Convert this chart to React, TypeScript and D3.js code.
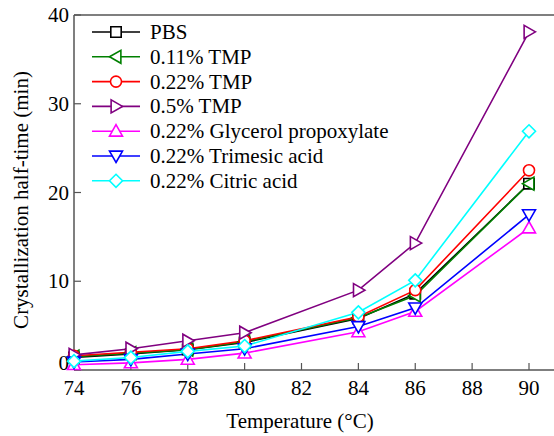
import React, { useEffect, useRef } from "react";
import * as d3 from "d3";

const temps = [74, 76, 78, 80, 84, 86, 90];
const xTicks = [74, 76, 78, 80, 82, 84, 86, 88, 90];
const yTicks = [0, 10, 20, 30, 40];

const seriesNames = [
  "PBS",
  "0.11% TMP",
  "0.22% TMP",
  "0.5% TMP",
  "0.22% Glycerol propoxylate",
  "0.22% Trimesic acid",
  "0.22% Citric acid",
];
const seriesColors = ["#000000", "#008000", "#ff0000", "#800080", "#ff00ff", "#0000ff", "#00ffff"];
const seriesShapes = ["square", "left", "circle", "right", "up", "down", "diamond"];

const pbs = [1.4, 1.8, 2.3, 3.1, 5.8, 8.6, 21.0];
const tmp011 = [1.5, 1.9, 2.3, 3.2, 5.9, 8.4, 21.0];
const tmp022 = [1.6, 2.0, 2.4, 3.3, 6.0, 9.0, 22.5];
const tmp05 = [1.7, 2.4, 3.3, 4.2, 9.0, 14.3, 38.1];
const glycerol = [0.6, 0.8, 1.2, 1.9, 4.3, 6.6, 16.0];
const trimesic = [0.9, 1.2, 1.8, 2.4, 4.9, 7.0, 17.5];
const citric = [1.0, 1.4, 2.1, 2.7, 6.5, 10.1, 26.9];

const allValues = [pbs, tmp011, tmp022, tmp05, glycerol, trimesic, citric];

function markerPath(shape: string, r: number) {
  switch (shape) {
    case "square":
      return `M${-r * 0.8},${-r * 0.8}H${r * 0.8}V${r * 0.8}H${-r * 0.8}Z`;
    case "circle":
      return `M${r * 0.85},0A${r * 0.85},${r * 0.85},0,1,1,${-r * 0.85},0A${r * 0.85},${r * 0.85},0,1,1,${r * 0.85},0Z`;
    case "up":
      return `M0,${-r}L${r},${r * 0.75}L${-r},${r * 0.75}Z`;
    case "down":
      return `M0,${r}L${r},${-r * 0.75}L${-r},${-r * 0.75}Z`;
    case "left":
      return `M${-r},0L${r * 0.75},${-r}L${r * 0.75},${r}Z`;
    case "right":
      return `M${r},0L${-r * 0.75},${-r}L${-r * 0.75},${r}Z`;
    default:
      return `M0,${-r}L${r},0L0,${r}L${-r},0Z`;
  }
}

export default function App() {
  const ref = useRef<SVGSVGElement>(null);

  useEffect(() => {
    const svg = d3.select(ref.current);
    svg.selectAll("*").remove();

    const left = 74, top = 15, bottom = 370;
    const x = d3.scaleLinear().domain([74, 90]).range([left, 529]);
    const y = d3.scaleLinear().domain([0, 40]).range([bottom, top]);
    const font = "'Liberation Serif', 'Times New Roman', serif";
    const fs = "21px";
    const axisColor = "#555";

    // frame
    svg.append("line").attr("x1", left).attr("x2", 554).attr("y1", top).attr("y2", top)
      .attr("stroke", axisColor).attr("stroke-width", 1.5);
    svg.append("line").attr("x1", left).attr("x2", 554).attr("y1", bottom).attr("y2", bottom)
      .attr("stroke", axisColor).attr("stroke-width", 1.5);
    svg.append("line").attr("x1", left).attr("x2", left).attr("y1", top).attr("y2", bottom)
      .attr("stroke", axisColor).attr("stroke-width", 1.5);

    // x ticks
    const gx = svg.append("g").style("font-family", font).style("font-size", fs);
    xTicks.forEach((t) => {
      gx.append("line").attr("x1", x(t)).attr("x2", x(t)).attr("y1", bottom).attr("y2", bottom - 7)
        .attr("stroke", axisColor).attr("stroke-width", 1.2);
      gx.append("text").attr("x", x(t)).attr("y", bottom + 25).attr("text-anchor", "middle").text(t);
    });

    // y ticks ("0" lifted so it clears the x labels)
    const gy = svg.append("g").style("font-family", font).style("font-size", fs);
    yTicks.forEach((t) => {
      gy.append("line").attr("x1", left).attr("x2", left + 7).attr("y1", y(t)).attr("y2", y(t))
        .attr("stroke", axisColor).attr("stroke-width", 1.2);
      gy.append("text").attr("x", left - 5).attr("y", y(t) + (t === 0 ? 0 : 7))
        .attr("text-anchor", "end").text(t);
    });

    svg.append("text").attr("x", 300).attr("y", 428).attr("text-anchor", "middle")
      .style("font-family", font).style("font-size", fs).text("Temperature (°C)");
    svg.append("text").attr("transform", "translate(28,200) rotate(-90)").attr("text-anchor", "middle")
      .style("font-family", font).style("font-size", fs).text("Crystallization half-time (min)");

    const line = d3.line<number>().x((_, i) => x(temps[i])).y((d) => y(d));

    allValues.forEach((vals, si) => {
      svg.append("path").attr("d", line(vals)).attr("fill", "none")
        .attr("stroke", seriesColors[si]).attr("stroke-width", 1.6);
    });
    allValues.forEach((vals, si) => {
      svg.append("g").selectAll("path").data(vals).enter().append("path")
        .attr("transform", (d, i) => `translate(${x(temps[i])},${y(d)})`)
        .attr("d", markerPath(seriesShapes[si], 6.5))
        .attr("fill", "white").attr("stroke", seriesColors[si]).attr("stroke-width", 1.6);
    });

    // legend
    const lg = svg.append("g").style("font-family", font).style("font-size", fs);
    seriesNames.forEach((name, i) => {
      const ly = 32 + i * 24.8;
      lg.append("line").attr("x1", 92).attr("x2", 140).attr("y1", ly).attr("y2", ly)
        .attr("stroke", seriesColors[i]).attr("stroke-width", 1.6);
      lg.append("path").attr("transform", `translate(116,${ly})`).attr("d", markerPath(seriesShapes[i], 6.5))
        .attr("fill", "white").attr("stroke", seriesColors[i]).attr("stroke-width", 1.6);
      lg.append("text").attr("x", 150).attr("y", ly + 7).text(name);
    });
  }, []);

  return (
    <svg ref={ref} width={554} height={436}
      style={{ position: "absolute", left: 0, top: 0, background: "white" }} />
  );
}
